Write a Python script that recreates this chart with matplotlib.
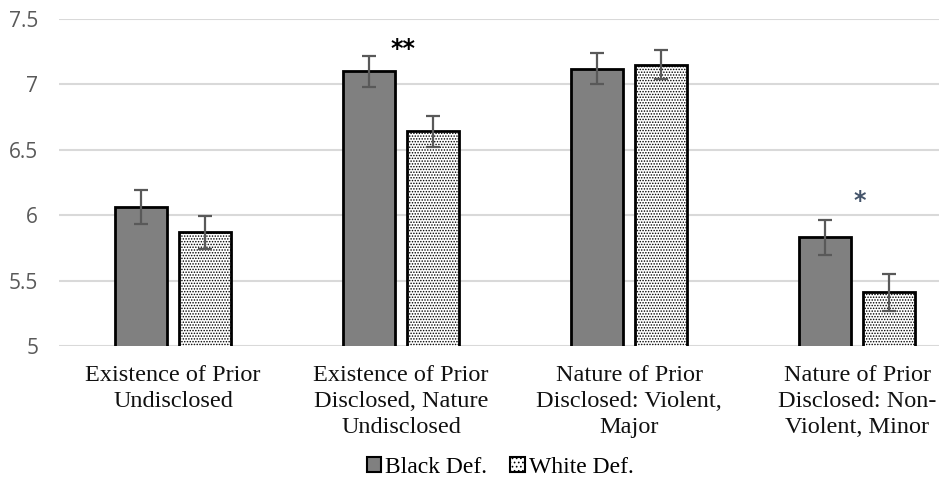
import matplotlib
matplotlib.use("Agg")
import matplotlib.pyplot as plt
import numpy as np
from matplotlib.patches import Patch

categories = ["Existence of Prior\nUndisclosed",
              "Existence of Prior\nDisclosed, Nature\nUndisclosed",
              "Nature of Prior\nDisclosed: Violent,\nMajor",
              "Nature of Prior\nDisclosed: Non-\nViolent, Minor"]
black_vals = [6.06, 7.10, 7.12, 5.83]
white_vals = [5.87, 6.64, 7.15, 5.41]
black_err = [0.13, 0.12, 0.12, 0.135]
white_err = [0.125, 0.115, 0.11, 0.14]
series_names = ["Black Def.", "White Def."]
yticks = [5, 5.5, 6, 6.5, 7, 7.5]
ytick_labels = ["5", "5.5", "6", "6.5", "7", "7.5"]
sig_marks = ["", "**", "", "*"]
sig_colors = ["black", "black", "black", "#44546A"]

W, H = 939, 486
fig = plt.figure(figsize=(W / 100, H / 100), dpi=100)
ax = fig.add_axes([59 / W, 1 - 346 / H, 1 - 59 / W, (346 - 19) / H])

x = np.arange(len(categories))
bw = 0.228
off = 0.142
plt.rcParams['hatch.color'] = '#999999'
plt.rcParams['hatch.linewidth'] = 0.7

ax.bar(x - off, black_vals, bw, color="#808080", edgecolor="black",
       linewidth=2, zorder=3)
ax.bar(x + off, white_vals, bw, color="white", edgecolor="black",
       linewidth=2, hatch="......", zorder=3)
ax.errorbar(x - off, black_vals, yerr=black_err, fmt="none", ecolor="#595959",
            elinewidth=1.6, capsize=5, capthick=1.6, zorder=4)
ax.errorbar(x + off, white_vals, yerr=white_err, fmt="none", ecolor="#595959",
            elinewidth=1.6, capsize=5, capthick=1.6, zorder=4)

ax.set_ylim(5, 7.5)
ax.set_xlim(-0.5, (W - 59) / 228 - 0.5)
ax.set_yticks(yticks)
ax.set_yticklabels(ytick_labels, fontsize=15, color="#595959", family="Open Sans")
ax.tick_params(axis="y", length=0, pad=15)
ax.set_xticks(x)
ax.set_xticklabels(categories, fontsize=17.5, family="Liberation Serif",
                   linespacing=1.31, color="#111111")
ax.tick_params(axis="x", length=0, pad=14)
ax.grid(axis="y", color="#d9d9d9", linewidth=1.5, zorder=0)
for s in ax.spines.values():
    s.set_visible(False)

for i, m in enumerate(sig_marks):
    if m:
        ax.text(x[i] + 0.01, max(black_vals[i], white_vals[i]) + (0.17 if m == "**" else 0.28),
                m, ha="center", va="center", fontsize=17, color=sig_colors[i],
                family="DejaVu Sans", fontweight="bold")

handles = [Patch(facecolor="#808080", edgecolor="black", linewidth=1.5),
           Patch(facecolor="white", edgecolor="black", linewidth=1.5, hatch="....")]
fig.legend(handles, series_names, loc="center", bbox_to_anchor=(500 / W, 1 - 467 / H),
           ncol=2, frameon=False, prop={"family": "Liberation Serif", "size": 17},
           handlelength=0.62, handleheight=0.62, handletextpad=0.15, columnspacing=1.0)

fig.savefig("out.png", dpi=100)
